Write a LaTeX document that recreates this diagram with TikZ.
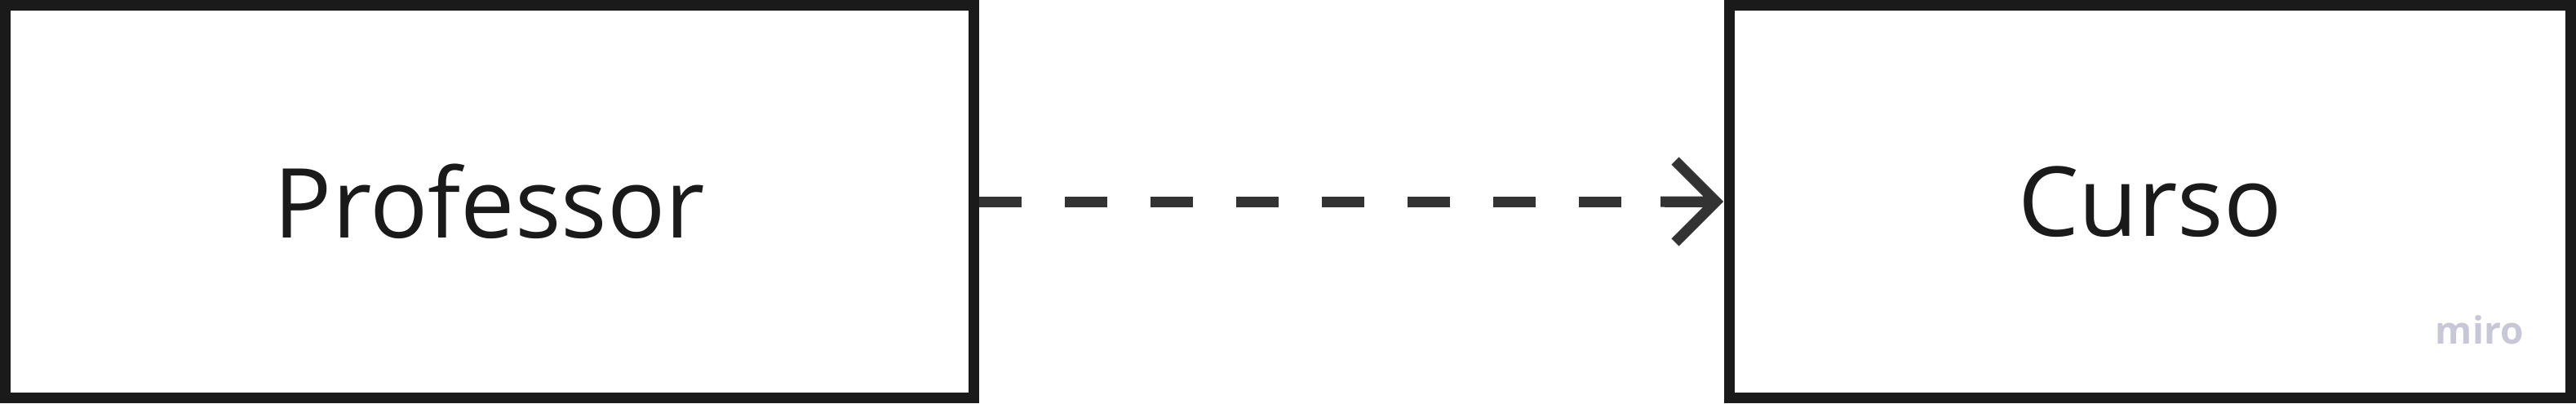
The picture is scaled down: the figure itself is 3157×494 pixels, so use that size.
\documentclass[tikz,border=0pt]{standalone}
\usepackage{fontspec}
\setmainfont{Open Sans}
\usetikzlibrary{arrows}

\definecolor{boxLine}{RGB}{26,26,26}
\definecolor{dashLine}{RGB}{51,51,51}
\definecolor{logoGrey}{RGB}{200,199,215}

\tikzset{
  classbox/.style={draw=boxLine, line width=3.25pt, rectangle, inner sep=0pt,
    minimum height=120.25pt, text=boxLine, font=\fontsize{29.6}{36}\selectfont},
  depline/.style={draw=dashLine, line width=3.25pt, dash pattern=on 13pt off 13.25pt},
  dephead/.style={draw=dashLine, line width=3.25pt, miter limit=4, line join=miter}
}

\begin{document}
\begin{tikzpicture}[x=0.25pt,y=0.25pt,yscale=-1,xscale=1]
%set diagram left start at 0, and has height of 494
\useasboundingbox (0,0) rectangle (3157,494);

%Shape: Rectangle [id:prof]
\node [classbox, minimum width=296.75pt] (prof) at (600,247) {Professor};
%Shape: Rectangle [id:curso]
\node [classbox, minimum width=257.75pt] (curso) at (2635,247) {Curso};

%Straight Lines [id:dep]
\coordinate (tip) at ([xshift=-2.5pt]curso.west);
\draw [depline] (prof.east) -- (tip);
\draw [dephead] ([shift={(-12.5pt,12.5pt)}]tip) -- (tip) -- ([shift={(-12.5pt,-12.5pt)}]tip)
  (tip) -- ([xshift=-17pt]tip);

% Text Node
\node [anchor=base west, inner sep=0pt, text=logoGrey, font=\fontsize{11.5}{14}\bfseries] (logo) at (2984,421) {miro};

\end{tikzpicture}
\end{document}
